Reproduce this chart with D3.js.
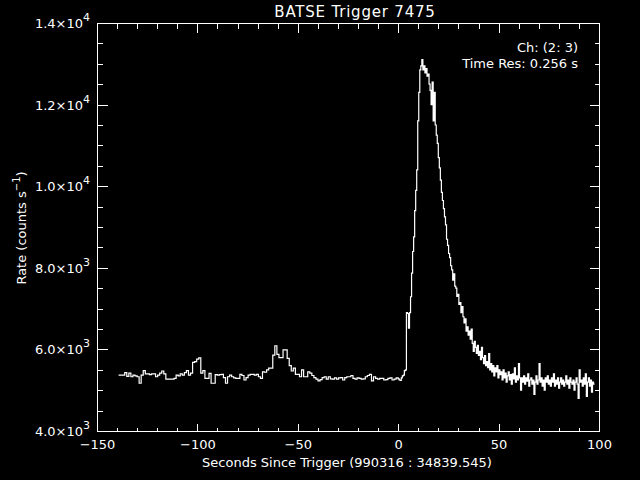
<!DOCTYPE html>
<html>
<head>
<meta charset="utf-8">
<script src="https://cdn.jsdelivr.net/npm/d3@7"></script>
<style>
  body { margin: 0; background: #000; }
  svg { display: block; background: #000; }
  text { fill: #fff; font-family: "DejaVu Sans", sans-serif; }
</style>
</head>
<body>
<svg id="chart" width="640" height="480"></svg>
<script>
// pre-trigger counts, 1.024 s bins starting at -139.264 s
var preStart = -139.264, preRes = 1.024;
var preRates = [
  5370, 5370, 5370, 5430, 5340, 5420, 5330, 5370, 5350, 5330,
  5170, 5370, 5480, 5400, 5400, 5380, 5400, 5400, 5330, 5370,
  5420, 5470, 5400, 5270, 5270, 5270, 5270, 5290, 5370, 5350,
  5400, 5370, 5430, 5480, 5370, 5420, 5680, 5700, 5760, 5790,
  5420, 5480, 5290, 5290, 5410, 5170, 5170, 5380, 5370, 5380,
  5390, 5310, 5170, 5330, 5370, 5330, 5300, 5290, 5290, 5390,
  5360, 5250, 5310, 5370, 5390, 5390, 5370, 5390, 5330, 5290,
  5450, 5440, 5500, 5540, 5540, 5860, 6090, 5880, 5800, 5800,
  5990, 5990, 5780, 5600, 5470, 5540, 5390, 5390, 5330, 5500,
  5330, 5330, 5450, 5420, 5360, 5310, 5270, 5230, 5260, 5310,
  5330, 5270, 5330, 5280, 5270, 5300, 5270, 5300, 5310, 5250,
  5310, 5330, 5330, 5360, 5290, 5270, 5300, 5290, 5270, 5280,
  5330, 5360, 5390, 5230, 5330, 5290, 5270, 5290, 5290, 5250,
  5260, 5290, 5300, 5250, 5270, 5300
];

// post-trigger counts, 0.512 s bins starting at 0 s
var postStart = 0, postRes = 0.512;
var postRates = [
  5280, 5250, 5240, 5300, 5350, 5370, 5480, 5500, 6900, 6880,
  6520, 6900, 7290, 7870, 8400, 8760, 9400, 9900, 10400, 11600,
  12300, 12850, 12950, 13100, 12850, 12950, 12780, 12880, 12700, 12750,
  12500, 12350, 12000, 12550, 11600, 12300, 11500, 11250, 11050, 10700,
  10450, 10150, 9850, 9650, 9450, 9250, 9050, 8700, 8550, 8350,
  8250, 8050, 7950, 7700, 7850, 7550, 7500, 7300, 7350, 7100,
  7150, 6900, 7050, 6800, 6650, 6750, 6450, 6550, 6350, 6450,
  6250, 6500, 6150, 5950, 6200, 6050, 5900, 6100, 5850, 5950,
  5750, 6050, 5800, 5650, 5850, 5600, 5700, 5550, 5900, 5500,
  5650, 5450, 5600, 5350, 5550, 5450, 5600, 5300, 5500, 5380,
  5450, 5250, 5500, 5300, 5420, 5200, 5350, 5450, 5250, 5380,
  5150, 5400, 5280, 5550, 5200, 5350, 5250, 5650, 5300, 5000,
  5300, 5200, 5350, 5150, 5300, 5220, 5400, 5100, 5250, 5300,
  5150, 5250, 4900, 5200, 5350, 5150, 5250, 5650, 5200, 5300,
  5100, 5250, 5000, 5300, 5200, 5350, 5150, 5250, 5100, 5300,
  5200, 5400, 5100, 5250, 5150, 5300, 5050, 5200, 5300, 5150,
  5250, 5100, 5200, 5350, 5150, 5250, 5050, 5300, 5200, 5150,
  5250, 5000, 5200, 5300, 5150, 4800, 5500, 5200, 5250, 5100,
  5300, 5150, 5400, 4850, 5200, 5300, 5100, 5250, 4950, 5200,
  5150
];

var xMajor = [-150, -100, -50, 0, 50, 100];
var yMajor = [4000, 6000, 8000, 10000, 12000, 14000];
var titleText = "BATSE Trigger 7475";
var xTitle = "Seconds Since Trigger (990316 : 34839.545)";
var notes = ["Ch: (2: 3)", "Time Res: 0.256 s"];

var svg = d3.select("#chart");
var pLeft = 97, pRight = 599, pTop = 23, pBottom = 431;

var x = d3.scaleLinear().domain([-150, 100]).range([pLeft, pRight]);
var y = d3.scaleLinear().domain([4000, 14000]).range([pBottom, pTop]);

// build step points from the binned series
var pts = [];
preRates.forEach(function(v, i){ pts.push([preStart + i*preRes, v]); });
postRates.forEach(function(v, i){ pts.push([postStart + i*postRes, v]); });
pts.push([postStart + postRates.length*postRes, postRates[postRates.length-1]]);

var line = d3.line()
    .x(function(d){ return x(d[0]); })
    .y(function(d){ return y(d[1]); })
    .curve(d3.curveStepAfter);

svg.append("path")
    .datum(pts)
    .attr("d", line)
    .attr("fill", "none")
    .attr("stroke", "#fff")
    .attr("stroke-width", 1.2);

// frame
svg.append("rect")
    .attr("x", pLeft + 0.5).attr("y", pTop + 0.5)
    .attr("width", pRight - pLeft).attr("height", pBottom - pTop)
    .attr("fill", "none").attr("stroke", "#fff")
    .attr("shape-rendering", "crispEdges");

function styleAxis(g){
  g.select(".domain").remove();
  g.selectAll("line").attr("stroke", "#fff").attr("shape-rendering", "crispEdges");
  g.selectAll("text").attr("fill", "#fff").style("font-size", "13px")
   .style("font-family", "DejaVu Sans, sans-serif");
}

var xMinor = d3.range(-150, 101, 10);
var yMinor = d3.range(4000, 14001, 500);

// bottom
svg.append("g").attr("transform", "translate(0," + (pBottom + 0.5) + ")")
  .call(d3.axisBottom(x).tickValues(xMinor).tickSize(-4).tickFormat(""))
  .call(styleAxis);
svg.append("g").attr("transform", "translate(0," + (pBottom + 0.5) + ")")
  .call(d3.axisBottom(x).tickValues(xMajor).tickSize(-8).tickPadding(8).tickFormat(d3.format("d")))
  .call(styleAxis);
// top
svg.append("g").attr("transform", "translate(0," + (pTop + 0.5) + ")")
  .call(d3.axisTop(x).tickValues(xMinor).tickSize(-5).tickFormat(""))
  .call(styleAxis);
svg.append("g").attr("transform", "translate(0," + (pTop + 0.5) + ")")
  .call(d3.axisTop(x).tickValues(xMajor).tickSize(-9).tickFormat(""))
  .call(styleAxis);
// left
svg.append("g").attr("transform", "translate(" + (pLeft + 0.5) + ",0)")
  .call(d3.axisLeft(y).tickValues(yMinor).tickSize(-5).tickFormat(""))
  .call(styleAxis);
svg.append("g").attr("transform", "translate(" + (pLeft + 0.5) + ",0)")
  .call(d3.axisLeft(y).tickValues(yMajor).tickSize(-10).tickFormat(""))
  .call(styleAxis);
// right
svg.append("g").attr("transform", "translate(" + (pRight + 0.5) + ",0)")
  .call(d3.axisRight(y).tickValues(yMinor).tickSize(-5).tickFormat(""))
  .call(styleAxis);
svg.append("g").attr("transform", "translate(" + (pRight + 0.5) + ",0)")
  .call(d3.axisRight(y).tickValues(yMajor).tickSize(-10).tickFormat(""))
  .call(styleAxis);

// y tick labels as m.m×10^e
yMajor.forEach(function(v){
  var e = Math.floor(Math.log10(v));
  var m = (v / Math.pow(10, e)).toFixed(1);
  var t = svg.append("text")
      .attr("x", pLeft - 7).attr("y", y(v) + 5)
      .attr("text-anchor", "end")
      .style("font-size", "13px");
  t.append("tspan").text(m + "\u00d710");
  t.append("tspan").attr("dy", -7).style("font-size", "11px").text(e);
});

svg.append("text")
    .attr("x", 355).attr("y", 17)
    .attr("text-anchor", "middle")
    .style("font-size", "15px")
    .style("letter-spacing", "0.8px")
    .text(titleText);

svg.append("text")
    .attr("x", 347).attr("y", 467)
    .attr("text-anchor", "middle")
    .style("font-size", "13px")
    .text(xTitle);

var yt = svg.append("text")
    .attr("transform", "translate(26,228) rotate(-90)")
    .attr("text-anchor", "middle")
    .style("font-size", "13px");
yt.append("tspan").text("Rate (counts s");
yt.append("tspan").attr("dy", -6).style("font-size", "10px").text("\u22121");
yt.append("tspan").attr("dy", 6).text(")");

notes.forEach(function(s, i){
  svg.append("text")
      .attr("x", 578).attr("y", 52 + i*16)
      .attr("text-anchor", "end")
      .style("font-size", "13px")
      .text(s);
});
</script>
</body>
</html>
